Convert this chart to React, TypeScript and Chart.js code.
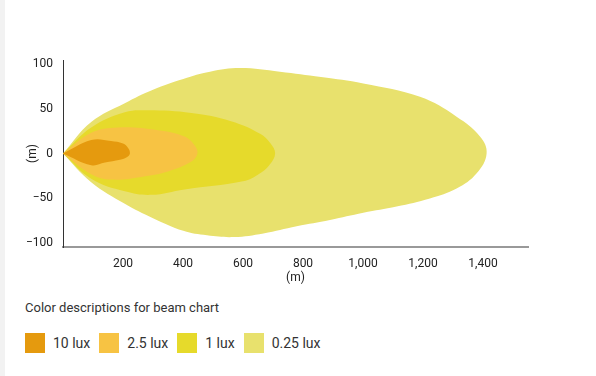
import React, { useEffect, useRef } from "react";
import { Chart, registerables } from "chart.js";

Chart.register(...registerables);

const FONT = "Roboto, 'Noto Sans', sans-serif";

const xTicks = [200, 400, 600, 800, 1000, 1200, 1400];
const yTicks = [-100, -50, 0, 50, 100];

const luxLabels = ["10 lux", "2.5 lux", "1 lux", "0.25 lux"];
const luxColors = ["#e59a0e", "#f7c343", "#e6da2b", "#e8e16d"];

// contours: [distance (m), lateral (m)]
const lux10 = [
  [0, 0], [94, 15], [160, 14], [200, 11], [217, 6], [223, 0],
  [214, -4], [190, -7], [140, -10], [94, -13], [0, 0],
];
const lux2_5 = [
  [0, 0], [94, 23], [183, 29], [317, 26], [405, 19], [439, 9], [448, 0],
  [428, -9], [350, -20], [261, -26], [161, -29], [94, -23], [0, 0],
];
const lux1 = [
  [0, 0], [94, 29], [206, 46], [283, 48], [428, 45], [560, 36], [657, 22], [692, 11], [707, 0],
  [690, -12], [657, -22], [600, -31], [405, -40], [294, -46], [206, -42], [94, -28], [0, 0],
];
const lux0_25 = [
  [0, 0], [94, 35], [206, 56], [300, 71], [401, 83], [490, 91], [590, 95], [723, 91],
  [860, 85], [1001, 78], [1190, 63], [1312, 41], [1390, 19], [1412, 0],
  [1379, -22], [1312, -39], [1223, -50], [1112, -59], [1001, -66], [890, -74], [779, -81],
  [668, -89], [570, -93], [480, -91], [401, -86], [300, -72], [206, -56], [94, -32], [0, 0],
];
const contours = [lux10, lux2_5, lux1, lux0_25];

export default function App() {
  const ref = useRef<HTMLCanvasElement>(null);

  useEffect(() => {
    const canvas = ref.current;
    if (!canvas) return;
    const chart = new Chart(canvas, {
      type: "scatter",
      data: {
        datasets: contours.map((c, i) => ({
          label: luxLabels[i],
          data: c.map(([x, y]) => ({ x, y })),
          showLine: true,
          fill: "shape",
          backgroundColor: luxColors[i],
          borderColor: luxColors[i],
          borderWidth: 0,
          pointRadius: 0,
          tension: 0.4,
        })),
      },
      options: {
        animation: false,
        responsive: false,
        events: [],
        layout: { padding: { left: 0, right: 68, top: 60, bottom: 0 } },
        plugins: { legend: { display: false }, tooltip: { enabled: false } },
        scales: {
          x: {
            type: "linear",
            min: 0,
            max: 1550,
            z: 1,
            afterBuildTicks: (s: any) => {
              s.ticks = xTicks.map((v) => ({ value: v }));
            },
            afterFit: (s: any) => {
              s.height = 40;
            },
            grid: { color: "rgba(255,255,255,0.3)", drawTicks: false },
            border: { color: "#999", width: 2 },
            ticks: {
              padding: 10,
              color: "#222",
              maxRotation: 0,
              autoSkip: false,
              font: { family: FONT, size: 12 },
            },
            title: {
              display: true,
              text: "(m)",
              color: "#222",
              font: { family: FONT, size: 12 },
              padding: { top: 0, bottom: 2 },
            },
          },
          y: {
            type: "linear",
            min: -104,
            max: 104,
            z: 1,
            afterBuildTicks: (s: any) => {
              s.ticks = yTicks.map((v) => ({ value: v }));
            },
            afterFit: (s: any) => {
              s.width = 58;
            },
            grid: { color: "rgba(255,255,255,0.3)", drawTicks: false },
            border: { color: "#333", width: 1 },
            ticks: {
              padding: 10,
              color: "#222",
              font: { family: FONT, size: 12 },
              callback: (v: any) => (v < 0 ? "\u2212" + Math.abs(v) : String(v)),
            },
            title: {
              display: true,
              text: "(m)",
              color: "#222",
              font: { family: FONT, size: 12 },
              padding: { top: 21, bottom: 0 },
            },
          },
        },
      },
    } as any);
    return () => chart.destroy();
  }, []);

  return (
    <div style={{ position: "fixed", inset: 0, background: "#f2f2f2" }}>
      <div
        style={{
          position: "absolute",
          left: 5,
          top: 0,
          width: 591,
          height: 376,
          background: "#fff",
          fontFamily: FONT,
        }}
      >
        <canvas
          ref={ref}
          width={591}
          height={287}
          style={{ position: "absolute", left: 0, top: 0, width: 591, height: 287 }}
        />
        <div
          style={{
            position: "absolute",
            left: 20,
            top: 299,
            fontSize: 13,
            color: "#333",
            lineHeight: "17px",
          }}
        >
          Color descriptions for beam chart
        </div>
        <div
          style={{
            position: "absolute",
            left: 20,
            top: 333,
            display: "flex",
            alignItems: "center",
            fontSize: 14,
            color: "#333",
          }}
        >
          {luxLabels.map((l, i) => (
            <div key={l} style={{ display: "flex", alignItems: "center", marginRight: 9 }}>
              <span
                style={{
                  display: "inline-block",
                  width: 20,
                  height: 20,
                  background: luxColors[i],
                  marginRight: 8,
                }}
              />
              <span style={{ lineHeight: "20px" }}>{l}</span>
            </div>
          ))}
        </div>
      </div>
    </div>
  );
}
